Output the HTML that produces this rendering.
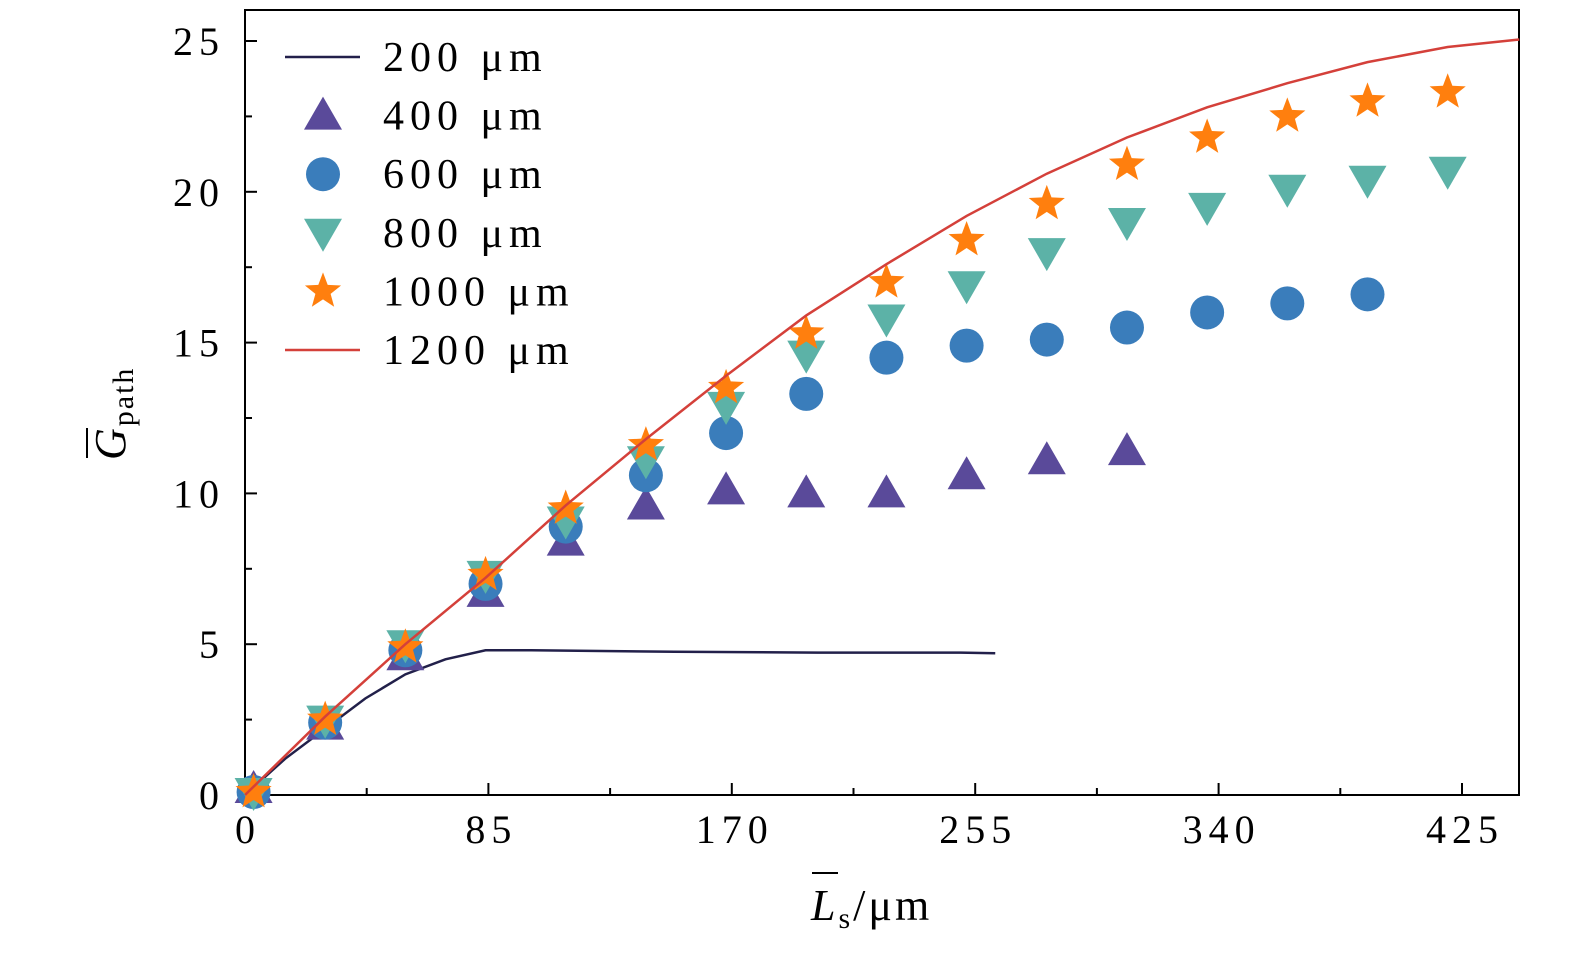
<!DOCTYPE html>
<html><head><meta charset="utf-8"><style>
body{margin:0;background:#fff}
svg{display:block;font-family:"Liberation Serif",serif}
</style></head><body>
<svg id="c" width="1575" height="955" viewBox="0 0 1575 955"></svg>
<script>
const xTicks=[0,85,170,255,340,425];
const yTicks=[0,5,10,15,20,25];
const xs400=[3,28,56,84,112,140,168,196,224,252,280,308];
const v400=[0.2,2.3,4.6,6.7,8.4,9.6,10.1,10.0,10.0,10.6,11.1,11.4];
const xs600=[3,28,56,84,112,140,168,196,224,252,280,308,336,364,392];
const v600=[0.1,2.4,4.8,7.0,8.9,10.6,12.0,13.3,14.5,14.9,15.1,15.5,16.0,16.3,16.6];
const xs800=[3,28,56,84,112,140,168,196,224,252,280,308,336,364,392,420];
const v800=[0.1,2.5,5.0,7.3,9.1,11.1,12.9,14.6,15.8,16.9,18.0,19.0,19.5,20.1,20.4,20.7];
const xs1000=[3,28,56,84,112,140,168,196,224,252,280,308,336,364,392,420];
const v1000=[0.1,2.5,4.9,7.3,9.5,11.6,13.5,15.3,17.0,18.4,19.6,20.9,21.8,22.5,23.0,23.3];
const xs200=[0,14,28,42,56,70,84,100,150,200,250,262];
const v200=[0,1.2,2.2,3.2,4.0,4.5,4.8,4.8,4.75,4.72,4.72,4.7];
const xs1200=[0,28,56,84,112,140,168,196,224,252,280,308,336,364,392,420,445];
const v1200=[0,2.6,5.0,7.2,9.6,11.8,13.9,15.9,17.6,19.2,20.6,21.8,22.8,23.6,24.3,24.8,25.05];

const L=245,R=1519,T=10,B=795;
const X=v=>L+v*(1462-245)/425;
const Y=v=>B-v*(795-41)/25;
const svg=document.getElementById('c');
const NS='http://www.w3.org/2000/svg';
function mk(tag,at,parent){const e=document.createElementNS(NS,tag);for(const k in at)e.setAttribute(k,at[k]);(parent||svg).appendChild(e);return e;}

for(let i=0;i<xTicks.length;i++){
  const t=xTicks[i];
  const tk=mk('line',{x1:X(t),x2:X(t),y1:B,y2:B-12,stroke:'#000','stroke-width':2});
  
  
  const m=mk('line',{x1:X(t+42.5),x2:X(t+42.5),y1:B,y2:B-7,stroke:'#000','stroke-width':2});
  
  
  const lb=mk('text',{x:X(t)+3,y:B+48,'font-size':40,'letter-spacing':6,'text-anchor':'middle'});
  lb.textContent=t;
  
  
}
for(let i=0;i<yTicks.length;i++){
  const t=yTicks[i];
  const tk=mk('line',{x1:L,x2:L+12,y1:Y(t),y2:Y(t),stroke:'#000','stroke-width':2});
  
  
  const m=mk('line',{x1:L,x2:L+7,y1:Y(t+2.5),y2:Y(t+2.5),stroke:'#000','stroke-width':2});
  
  
  const lb=mk('text',{x:L-20,y:Y(t)+14,'font-size':40,'letter-spacing':6,'text-anchor':'end'});
  lb.textContent=t;
  
  
}
const frame=mk('rect',{x:L,y:T,width:R-L,height:B-T,fill:'none',stroke:'#000','stroke-width':2});



function line(xs,vs,col,w,name){
  const p=mk('polyline',{points:xs.map((x,i)=>X(x)+','+Y(vs[i])).join(' '),fill:'none',stroke:col,'stroke-width':w});
  
  
}
function marker(type,cx,cy,col,name){
  let e;
  if(type==='circ') e=mk('circle',{cx:cx,cy:cy,r:17,fill:col});
  else if(type==='up') e=mk('polygon',{points:`${cx},${cy-19} ${cx-19},${cy+14} ${cx+19},${cy+14}`,fill:col});
  else if(type==='down') e=mk('polygon',{points:`${cx},${cy+19} ${cx-19},${cy-14} ${cx+19},${cy-14}`,fill:col});
  else {let p=[];for(let k=0;k<10;k++){const r=k%2?8:19;const a=-Math.PI/2+k*Math.PI/5;p.push((cx+r*Math.cos(a))+','+(cy+r*Math.sin(a)));}
    e=mk('polygon',{points:p.join(' '),fill:col});}
  
  
}
line(xs200,v200,'#22204a',2.5,'series-200um');
xs400.forEach((x,i)=>marker('up',X(x),Y(v400[i]),'#5a4a9a','point-400um'));
xs600.forEach((x,i)=>marker('circ',X(x),Y(v600[i]),'#3a7dbb','point-600um'));
xs800.forEach((x,i)=>marker('down',X(x),Y(v800[i]),'#5cb2a7','point-800um'));
xs1000.forEach((x,i)=>marker('star',X(x),Y(v1000[i]),'#ff7f0e','point-1000um'));
line(xs1200,v1200,'#d4403a',2.5,'series-1200um');

const labs=['200 μm','400 μm','600 μm','800 μm','1000 μm','1200 μm'];
const lg=mk('g',{});


labs.forEach((s,i)=>{
  const y=57+i*58.6;
  if(i===0||i===5){const l=mk('line',{x1:285,x2:360,y1:y,y2:y,stroke:i?'#d4403a':'#22204a','stroke-width':2.5},lg);}
  else {const types=['','up','circ','down','star'];const cols=['','#5a4a9a','#3a7dbb','#5cb2a7','#ff7f0e'];marker(types[i],323,y,cols[i],'legend-marker');}
  const t=mk('text',{x:383,y:y+14,'font-size':42,'letter-spacing':6},lg);
  t.textContent=s;
  
  
});
</script>
<svg style="position:absolute;left:0;top:0" width="1575" height="955">
<g font-family="Liberation Serif,serif">
<text x="811" y="920" font-size="44" letter-spacing="3"><tspan font-style="italic">L</tspan><tspan font-size="30" dy="8">s</tspan><tspan dy="-8">/μm</tspan></text>
<line x1="812" y1="873" x2="838" y2="873" stroke="#000" stroke-width="2"/>
<g transform="translate(125,458) rotate(-90)">
<text x="-2" y="0" font-size="44" letter-spacing="2"><tspan font-style="italic">G</tspan><tspan font-size="30" dy="8">path</tspan></text>
<line x1="0" y1="-38" x2="30" y2="-38" stroke="#000" stroke-width="2"/>
</g></g></svg>
</body></html>
